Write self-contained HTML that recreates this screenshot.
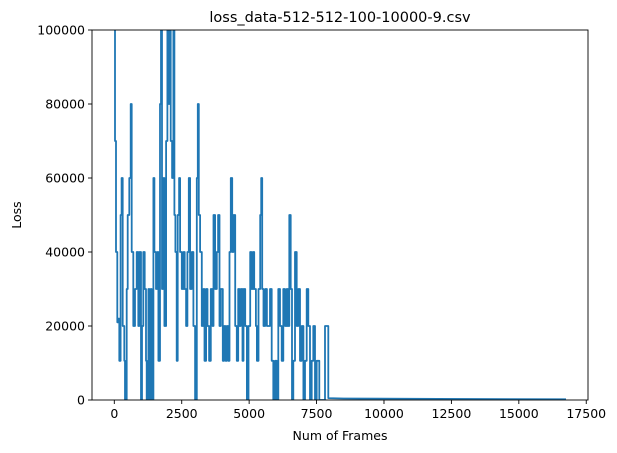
<!DOCTYPE html>
<html><head><meta charset="utf-8"><style>
body{margin:0;background:#fff;}
svg{display:block;font-family:"DejaVu Sans","Liberation Sans",sans-serif;}
</style></head><body>
<svg id="chart" width="617" height="453" viewBox="0 0 617 453"></svg>
<script>
const frames=[0,25,62,111,150,186,235,272,310,371,396,458,495,557,607,644,706,768,829,891,929,990,1028,1077,1127,1176,1201,1263,1300,1349,1387,1448,1486,1548,1597,1634,1696,1733,1770,1820,1857,1919,1968,2006,2043,2092,2142,2191,2228,2266,2315,2352,2402,2439,2501,2563,2612,2662,2711,2761,2810,2872,2934,2996,3058,3095,3132,3182,3244,3305,3343,3405,3454,3516,3578,3640,3677,3739,3801,3850,3900,3949,4024,4073,4123,4172,4222,4271,4321,4370,4420,4482,4543,4593,4643,4692,4754,4791,4853,4915,4977,5039,5088,5138,5187,5249,5287,5348,5410,5447,5484,5534,5596,5658,5720,5773,5835,5897,5958,6020,6082,6144,6206,6268,6330,6391,6440,6490,6540,6590,6639,6700,6762,6824,6886,6948,7010,7072,7133,7195,7257,7318,7380,7442,7504,7600,7740,7813,7900,7937,8500,12000,16750];
const losses=[100000,70000,40000,21000,22000,10600,50000,60000,20000,10600,0,30000,50000,60000,80000,40000,20000,30000,40000,20000,40000,0,20000,40000,30000,10600,0,30000,0,30000,0,60000,40000,30000,40000,10600,80000,100000,30000,60000,20000,70000,100000,80000,100000,70000,60000,100000,50000,40000,10600,50000,60000,40000,30000,40000,30000,20000,40000,60000,30000,40000,20000,0,60000,80000,50000,40000,20000,30000,10600,30000,20000,10600,30000,20000,50000,30000,40000,50000,20000,30000,10600,20000,10600,20000,10600,40000,60000,40000,50000,20000,10600,30000,20000,30000,10600,30000,20000,0,20000,40000,30000,40000,30000,20000,10600,30000,50000,60000,30000,20000,30000,20000,20000,30000,10600,0,10600,0,30000,20000,10600,30000,20000,30000,20000,50000,30000,0,10600,40000,20000,30000,10600,20000,0,10600,30000,20000,0,10600,20000,0,10600,0,0,20000,20000,500,400,300,200];
const xTicks=[0,2500,5000,7500,10000,12500,15000,17500];
const yTicks=[0,20000,40000,60000,80000,100000];
const L=92,R=588,T=30,B=400,xmin=-827,xmax=17565,ymin=0,ymax=100000;
const X=v=>L+(v-xmin)/(xmax-xmin)*(R-L);
const Y=v=>B-(v-ymin)/(ymax-ymin)*(B-T);
const svg=document.getElementById('chart');
const NS='http://www.w3.org/2000/svg';
function mk(tag,attrs,parent){const e=document.createElementNS(NS,tag);for(const k in attrs)e.setAttribute(k,attrs[k]);(parent||svg).appendChild(e);return e;}
const clip=mk('clipPath',{id:'pc'});mk('rect',{x:L,y:T,width:R-L,height:B-T},clip);
let d='';frames.forEach((f,i)=>{
  if(i===0){d+='M'+X(f).toFixed(1)+','+Y(losses[i]).toFixed(1);}
  else if(f<8000){d+='H'+X(f).toFixed(1)+'V'+Y(losses[i]).toFixed(1);}
  else{d+='L'+X(f).toFixed(1)+','+Y(losses[i]).toFixed(1);}
});
const line=mk('path',{d:d,fill:'none',stroke:'#1f77b4','stroke-width':1.8,'clip-path':'url(#pc)','stroke-linejoin':'round'});


const frame=mk('rect',{x:L,y:T,width:R-L,height:B-T,fill:'none',stroke:'#000','stroke-width':0.9});


xTicks.forEach(t=>{const x=X(t);mk('line',{x1:x,x2:x,y1:B,y2:B+4,stroke:'#000','stroke-width':0.9});
const tx=mk('text',{x:x,y:B+18,'text-anchor':'middle','font-size':12.5});tx.textContent=t;

});
yTicks.forEach(t=>{const y=Y(t);mk('line',{x1:L-4,x2:L,y1:y,y2:y,stroke:'#000','stroke-width':0.9});
const tx=mk('text',{x:L-7,y:y+4.5,'text-anchor':'end','font-size':12.5});tx.textContent=t;

});
const ti=mk('text',{x:(L+R)/2,y:22,'text-anchor':'middle','font-size':14.5});ti.textContent='loss_data-512-512-100-10000-9.csv';


const xl=mk('text',{x:(L+R)/2,y:440,'text-anchor':'middle','font-size':12.5});xl.textContent='Num of Frames';


const yl=mk('text',{x:21,y:(T+B)/2,'text-anchor':'middle','font-size':12.5,transform:'rotate(-90 21 '+((T+B)/2)+')'});yl.textContent='Loss';


</script>
</body></html>
